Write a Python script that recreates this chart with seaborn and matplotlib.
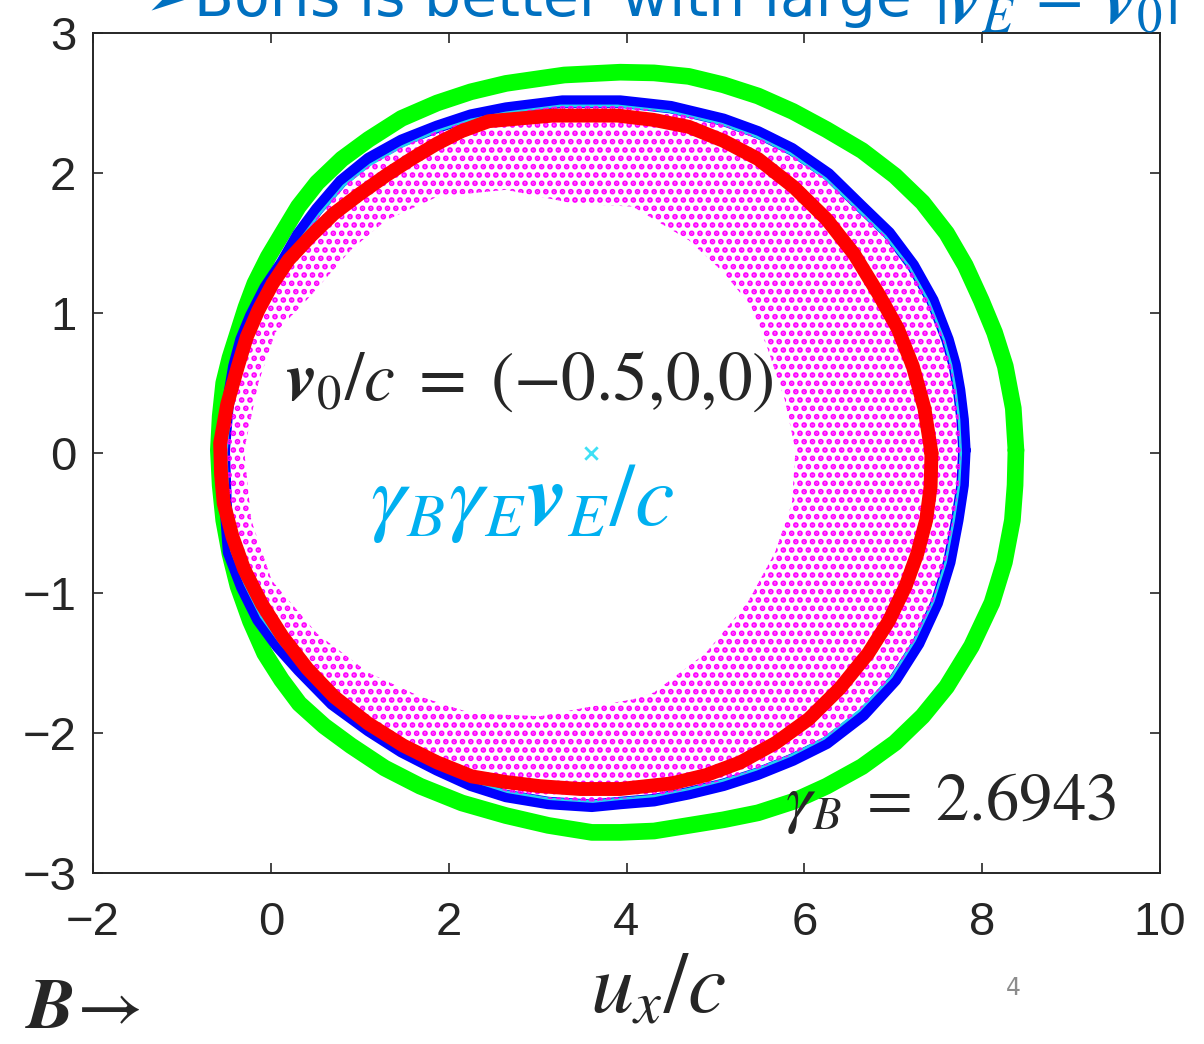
import matplotlib
matplotlib.use("Agg")
import matplotlib.pyplot as plt
from matplotlib.path import Path
from matplotlib.patches import PathPatch
import numpy as np
import seaborn as sns

# orbits in (u_x/c, u_y/c), each loop closed
green_x = [8.38, 8.35, 8.26, 8.14, 7.99, 7.81, 7.60, 7.33, 7.02, 6.65, 6.25, 5.87, 5.48, 5.09,
           4.70, 4.31, 3.93, 3.30, 2.645, 2.25, 1.87, 1.47, 1.10, 0.80, 0.52, 0.31, 0.13, -0.03,
           -0.18, -0.28, -0.37, -0.46, -0.53, -0.57, -0.59, -0.57, -0.53, -0.46, -0.37, -0.23,
           -0.07, 0.12, 0.32, 0.60, 0.90, 1.28, 1.68, 2.15, 2.645, 3.12, 3.61, 3.93, 4.31, 4.70,
           5.09, 5.48, 5.87, 6.25, 6.65, 7.02, 7.33, 7.60, 7.88, 8.11, 8.25, 8.34, 8.37, 8.38]
green_y = [0.02, 0.32, 0.62, 0.86, 1.09, 1.34, 1.57, 1.79, 1.98, 2.16, 2.31, 2.44, 2.55, 2.63,
           2.69, 2.715, 2.72, 2.70, 2.64, 2.58, 2.50, 2.39, 2.24, 2.10, 1.93, 1.76, 1.57, 1.40,
           1.21, 1.04, 0.86, 0.68, 0.50, 0.26, 0.02, -0.23, -0.48, -0.72, -0.95, -1.20, -1.43,
           -1.62, -1.79, -1.95, -2.09, -2.25, -2.38, -2.50, -2.59, -2.66, -2.71, -2.71, -2.70,
           -2.66, -2.62, -2.57, -2.49, -2.38, -2.24, -2.07, -1.88, -1.67, -1.38, -1.07, -0.78,
           -0.48, -0.23, 0.02]

blue_x = [7.80, 7.78, 7.74, 7.69, 7.61, 7.44, 7.22, 6.95, 6.64, 6.27, 5.86, 5.48, 5.09, 4.50,
          3.93, 3.28, 2.645, 2.25, 1.87, 1.47, 1.10, 0.79, 0.52, 0.31, 0.13, -0.06, -0.22, -0.33,
          -0.41, -0.49, -0.53, -0.51, -0.47, -0.32, -0.14, 0.08, 0.32, 0.69, 1.10, 1.47, 1.87,
          2.25, 2.645, 3.12, 3.61, 3.93, 4.31, 4.70, 5.09, 5.48, 5.87, 6.25, 6.66, 7.02, 7.28,
          7.49, 7.63, 7.72, 7.78, 7.80]
blue_y = [0.02, 0.24, 0.45, 0.63, 0.81, 1.09, 1.34, 1.57, 1.76, 1.99, 2.17, 2.29, 2.38, 2.47,
          2.51, 2.51, 2.46, 2.41, 2.33, 2.23, 2.10, 1.94, 1.74, 1.56, 1.36, 1.18, 0.98, 0.81,
          0.62, 0.32, 0.02, -0.35, -0.71, -0.96, -1.19, -1.38, -1.55, -1.79, -1.98, -2.13, -2.26,
          -2.37, -2.45, -2.50, -2.52, -2.50, -2.48, -2.43, -2.37, -2.29, -2.19, -2.07, -1.87,
          -1.62, -1.36, -1.07, -0.78, -0.48, -0.23, 0.02]

cyan_x = [7.76, 7.74, 7.70, 7.65, 7.57, 7.40, 7.18, 6.91, 6.60, 6.24, 5.84, 5.46, 5.07, 4.48,
          3.90, 3.26, 2.645, 2.25, 1.87, 1.48, 1.12, 0.82, 0.55, 0.34, 0.16, -0.03, -0.19, -0.30,
          -0.38, -0.46, -0.50, -0.48, -0.44, -0.29, -0.11, 0.11, 0.35, 0.72, 1.12, 1.49, 1.89,
          2.26, 2.66, 3.13, 3.62, 3.93, 4.31, 4.70, 5.08, 5.46, 5.85, 6.22, 6.62, 6.98, 7.24,
          7.45, 7.59, 7.68, 7.74, 7.76]
cyan_y = [0.0, 0.24, 0.45, 0.63, 0.81, 1.08, 1.33, 1.55, 1.74, 1.96, 2.14, 2.26, 2.35, 2.44,
          2.48, 2.48, 2.43, 2.38, 2.30, 2.19, 2.06, 1.91, 1.71, 1.53, 1.34, 1.16, 0.96, 0.79,
          0.60, 0.31, 0.0, -0.35, -0.70, -0.94, -1.17, -1.36, -1.53, -1.76, -1.95, -2.10, -2.23,
          -2.34, -2.42, -2.47, -2.49, -2.47, -2.45, -2.40, -2.34, -2.26, -2.16, -2.04, -1.84,
          -1.60, -1.34, -1.06, -0.78, -0.48, -0.23, 0.0]

red_x = [7.43, 7.35, 7.22, 7.05, 6.83, 6.56, 6.25, 5.88, 5.48, 5.09, 4.70, 4.30, 3.90, 3.17,
         2.45, 2.15, 1.87, 1.58, 1.29, 1.00, 0.71, 0.45, 0.20, 0.02, -0.14, -0.27, -0.37, -0.49,
         -0.57, -0.56, -0.53, -0.43, -0.30, -0.10, 0.13, 0.41, 0.71, 1.09, 1.49, 1.87, 2.26,
         2.64, 3.03, 3.48, 3.93, 4.22, 4.51, 4.90, 5.28, 5.68, 6.05, 6.40, 6.72, 6.95, 7.14,
         7.27, 7.37, 7.42, 7.43]
red_y = [0.0, 0.32, 0.62, 0.89, 1.14, 1.42, 1.67, 1.90, 2.10, 2.23, 2.33, 2.38, 2.41, 2.41,
         2.37, 2.30, 2.21, 2.10, 1.98, 1.85, 1.71, 1.55, 1.38, 1.21, 1.02, 0.83, 0.62, 0.35,
         0.07, -0.15, -0.36, -0.60, -0.83, -1.08, -1.31, -1.54, -1.74, -1.93, -2.09, -2.21,
         -2.31, -2.35, -2.38, -2.40, -2.40, -2.38, -2.36, -2.30, -2.21, -2.07, -1.90, -1.68,
         -1.43, -1.20, -0.95, -0.72, -0.48, -0.24, 0.0]

# inner edge of the magenta (scattered) orbit; outer edge follows the cyan curve
hole_x = [5.90, 5.78, 5.59, 5.40, 5.09, 4.70, 4.07, 3.42, 2.645, 1.87, 1.29, 0.90, 0.40, 0.05,
          -0.14, -0.30, -0.22, 0.01, 0.52, 1.10, 1.68, 2.26, 3.03, 3.61, 4.07, 4.31, 4.89, 5.36,
          5.67, 5.86, 5.90]
hole_y = [0.02, 0.38, 0.74, 1.05, 1.29, 1.52, 1.76, 1.78, 1.88, 1.83, 1.66, 1.45, 1.09, 0.86,
          0.50, 0.02, -0.48, -0.91, -1.29, -1.57, -1.74, -1.86, -1.88, -1.81, -1.76, -1.71, -1.43,
          -1.07, -0.71, -0.36, 0.02]

drift_x = [3.6]
drift_y = [0.0]

x_ticks = [-2, 0, 2, 4, 6, 8, 10]
y_ticks = [-3, -2, -1, 0, 1, 2, 3]

sns.set_style("ticks")
plt.rcParams["font.family"] = ["DejaVu Sans"]
plt.rcParams["mathtext.fontset"] = "stix"
plt.rcParams["hatch.linewidth"] = 2.8

W, H = 1204, 1044
fig = plt.figure(figsize=(W / 100, H / 100), dpi=100)
ax = fig.add_axes([93 / W, 1 - 873 / H, (1160 - 93) / W, (873 - 33) / H])


def fx(px):
    return px / W


def fy(py):
    return 1 - py / H


sns.lineplot(x=green_x, y=green_y, sort=False, estimator=None, color="#00FF00", lw=12,
             solid_joinstyle="round", ax=ax)
sns.lineplot(x=blue_x, y=blue_y, sort=False, estimator=None, color="#0000FF", lw=9,
             solid_joinstyle="round", ax=ax)
sns.lineplot(x=cyan_x, y=cyan_y, sort=False, estimator=None, color="#22D3F0", lw=1.8, ax=ax)

outer = np.column_stack([cyan_x, cyan_y])
inner = np.column_stack([hole_x, hole_y])[::-1]
codes = ([Path.MOVETO] + [Path.LINETO] * (len(outer) - 2) + [Path.CLOSEPOLY]
         + [Path.MOVETO] + [Path.LINETO] * (len(inner) - 2) + [Path.CLOSEPOLY])
band = Path(np.concatenate([outer, inner]), codes)
ax.add_patch(PathPatch(band, facecolor="none", edgecolor="#FF00FF", lw=0, hatch="..", zorder=2.5))

sns.lineplot(x=red_x, y=red_y, sort=False, estimator=None, color="#FF0000", lw=10,
             solid_joinstyle="round", ax=ax, zorder=3)
sns.scatterplot(x=drift_x, y=drift_y, marker="x", color="#3FE0F5", s=80, linewidth=2,
                ax=ax, zorder=4)

ax.set_xlim(-2, 10)
ax.set_ylim(-3, 3)
ax.set_xticks(x_ticks)
ax.set_yticks(y_ticks)
ax.set_xticklabels([str(t).replace("-", "\u2212") for t in x_ticks])
ax.set_yticklabels([str(t).replace("-", "\u2212") for t in y_ticks])
ax.tick_params(direction="in", length=7, width=1.2, color="#262626", top=True, right=True,
               labelsize=34, labelcolor="#262626")
ax.tick_params(axis="x", pad=20)
ax.tick_params(axis="y", pad=12)
for lbl in ax.get_xticklabels() + ax.get_yticklabels():
    lbl.set_fontfamily(["Liberation Sans Narrow", "Liberation Sans"])
for sp in ax.spines.values():
    sp.set_visible(True)
    sp.set_color("#262626")
    sp.set_linewidth(1.4)
ax.set_xlabel("")
ax.set_ylabel("")

fig.text(fx(145), fy(16), "➢Boris is better with large", fontsize=42, color="#0070C0",
         va="baseline")
fig.text(fx(934), fy(23), r"$|\mathbfit{v}_E\,-\,\mathbfit{v}_0|$", fontsize=52,
         color="#0070C0", va="baseline")
fig.text(fx(285), fy(400), r"$\mathbfit{v}_0/c\;=\;(-0.5{,}0{,}0)$", fontsize=50,
         va="baseline")
fig.text(fx(370), fy(525), r"$\gamma_B\gamma_E\mathbfit{v}_E/c$", fontsize=64,
         color="#00B0F0", va="baseline")
fig.text(fx(785), fy(820), r"$\gamma_B\;=\;2.6943$", fontsize=48, va="baseline")
fig.text(fx(590), fy(1012), r"$u_x/c$", fontsize=62, va="baseline")
fig.text(fx(25), fy(1028), r"$\mathbfit{B}\!\rightarrow$", fontsize=52, va="baseline")
fig.text(fx(1006), fy(995), "4", fontsize=17, color="#8c8c8c", va="baseline",
         family=["Liberation Sans Narrow", "DejaVu Sans"])

fig.savefig("out.png", dpi=100)
